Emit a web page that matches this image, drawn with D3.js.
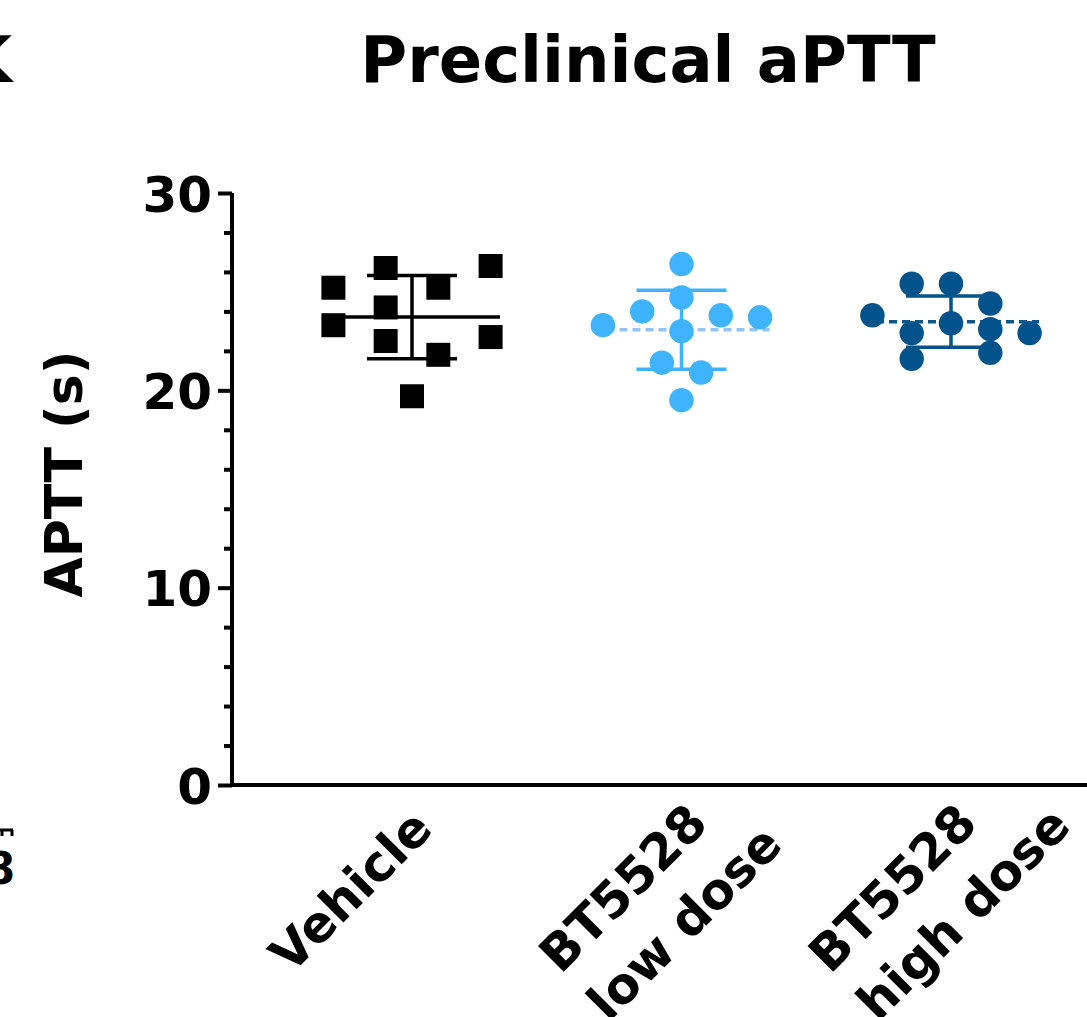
<!DOCTYPE html>
<html>
<head>
<meta charset="utf-8">
<script src="https://cdn.jsdelivr.net/npm/d3@7"></script>
<style>
body { margin: 0; background: #fff; }
svg text { font-family: "DejaVu Sans", Verdana, sans-serif; font-weight: bold; fill: #000; }
</style>
</head>
<body>
<svg id="chart" width="1087" height="1017"></svg>
<script>
// groups, and the lines of each rotated label
let categories = ["Vehicle", "BT5528 low dose", "BT5528 high dose"];
let categoryLines = [["Vehicle"], ["BT5528", "low dose"], ["BT5528", "high dose"]];

// APTT (s) per animal
let vehicleValues  = [25.2, 23.3, 26.2, 24.2, 22.5, 19.7, 25.2, 21.8, 26.3, 22.7];
let lowDoseValues  = [26.4, 24.7, 24.0, 23.3, 23.0, 23.8, 23.7, 21.4, 20.9, 19.5];
let highDoseValues = [25.4, 25.4, 24.4, 23.8, 23.4, 22.9, 23.1, 22.9, 21.6, 21.9];

// scatter column of each dot (how Prism spread them)
let vehicleCols  = [-2, -2, -0.67, -0.67, -0.67, 0, 0.67, 0.67, 2, 2];
let lowDoseCols  = [0, 0, -1, -2, 0, 1, 2, -0.5, 0.5, 0];
let highDoseCols = [-1, 0, 1, -2, 0, -1, 1, 2, -1, 1];

let yTicks = [0, 10, 20, 30];
let yMinorTicks = [2, 4, 6, 8, 12, 14, 16, 18, 22, 24, 26, 28];

let groupValues = [vehicleValues, lowDoseValues, highDoseValues];
let groupCols = [vehicleCols, lowDoseCols, highDoseCols];
let groupColors = ["#000000", "#3fb3fd", "#02538b"];
let meanColors = ["#000000", "#93c4f5", "#0b578d"];
let meanDashed = [false, true, true];
let groupShapes = [d3.symbolSquare, d3.symbolCircle, d3.symbolCircle];

let svg = d3.select("#chart");
let width = +svg.attr("width");
let height = +svg.attr("height");
let axisX = 232;

let x = d3.scalePoint()
    .domain(categories)
    .range([412, 951]);

let y = d3.scaleLinear()
    .domain([0, 30])
    .range([785, 193]);

let colScale = d3.scaleLinear()
    .domain([-1, 1])
    .range([-39.3, 39.3]);

// title
svg.append("text")
    .attr("x", 648)
    .attr("y", 82)
    .attr("text-anchor", "middle")
    .style("font-size", "64px")
    .text("Preclinical aPTT");

// bits of the neighbouring panels that show at the left edge
svg.append("text")
    .attr("x", 12)
    .attr("y", 82)
    .attr("text-anchor", "end")
    .style("font-size", "64px")
    .text("K");
svg.append("text")
    .attr("x", 15)
    .attr("y", 884)
    .attr("text-anchor", "end")
    .style("font-size", "44px")
    .text("8");
svg.append("path")
    .attr("d", "M0,830H13M2,830V836M12,830V836")
    .attr("stroke", "#000")
    .attr("stroke-width", 3)
    .attr("fill", "none");

// y axis, major then minor ticks
let yAxis = d3.axisLeft(y)
    .tickValues(yTicks)
    .tickSize(14)
    .tickSizeOuter(0)
    .tickPadding(6)
    .tickFormat(d3.format("d"));

let yAxisG = svg.append("g")
    .attr("transform", "translate(" + axisX + ",0)")
    .call(yAxis);
yAxisG.select(".domain").attr("stroke-width", 4).attr("d", "M0," + (y(0) + 2) + "V" + y(30));
yAxisG.selectAll(".tick line").attr("stroke-width", 4);
yAxisG.selectAll(".tick text")
    .style("font-size", "50px")
    .attr("font-family", null)
    .attr("dy", "0.36em");

let yMinor = d3.axisLeft(y)
    .tickValues(yMinorTicks)
    .tickSize(8)
    .tickSizeOuter(0)
    .tickFormat("");
let yMinorG = svg.append("g")
    .attr("transform", "translate(" + axisX + ",0)")
    .call(yMinor);
yMinorG.select(".domain").remove();
yMinorG.selectAll(".tick line").attr("stroke-width", 4);

// x axis is just the baseline
svg.append("line")
    .attr("x1", axisX - 2)
    .attr("x2", width)
    .attr("y1", y(0))
    .attr("y2", y(0))
    .attr("stroke", "#000")
    .attr("stroke-width", 4);

svg.append("text")
    .attr("transform", "translate(82," + 474 + ") rotate(-90)")
    .attr("text-anchor", "middle")
    .style("font-size", "52px")
    .text("APTT (s)");

// rotated group labels, lines left aligned
let labelG = svg.append("g");
categories.forEach(function (c, i) {
    let g = labelG.append("g")
        .attr("transform", "translate(" + (x(c) - 121) + "," + (y(0) + 190) + ") rotate(-45)");
    categoryLines[i].forEach(function (line, j) {
        g.append("text")
            .attr("x", 0)
            .attr("y", j * 68)
            .style("font-size", "50px")
            .text(line);
    });
});

// mean +/- SD and the dots
let plot = svg.append("g");
categories.forEach(function (c, i) {
    let vals = groupValues[i];
    let mean = d3.mean(vals);
    let sd = d3.deviation(vals);
    let cx = x(c);
    let g = plot.append("g");

    g.append("line")
        .attr("x1", cx - 88)
        .attr("x2", cx + 88)
        .attr("y1", y(mean))
        .attr("y2", y(mean))
        .attr("stroke", meanColors[i])
        .attr("stroke-width", 3.5)
        .attr("stroke-dasharray", meanDashed[i] ? "8,5" : null);

    g.append("line")
        .attr("x1", cx).attr("x2", cx)
        .attr("y1", y(mean - sd))
        .attr("y2", y(mean + sd))
        .attr("stroke", groupColors[i])
        .attr("stroke-width", 3.5);

    [mean - sd, mean + sd].forEach(function (v) {
        g.append("line")
            .attr("x1", cx - 45)
            .attr("x2", cx + 45)
            .attr("y1", y(v))
            .attr("y2", y(v))
            .attr("stroke", groupColors[i])
            .attr("stroke-width", 3.5);
    });

    let symbol = d3.symbol().type(groupShapes[i]).size(i === 0 ? 576 : 470);
    g.selectAll("path.dot")
        .data(vals)
        .enter()
        .append("path")
        .attr("class", "dot")
        .attr("d", symbol)
        .attr("transform", (d, k) => "translate(" + (cx + colScale(groupCols[i][k])) + "," + y(d) + ")")
        .attr("fill", groupColors[i]);
});
</script>
</body>
</html>
